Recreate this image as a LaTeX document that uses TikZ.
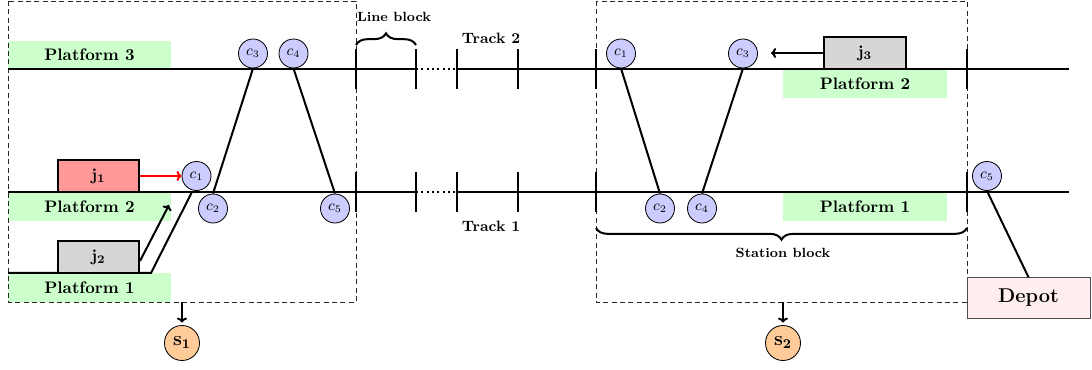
\documentclass[tikz,border=0pt]{standalone}
\usetikzlibrary{decorations.pathreplacing,arrows.meta}
\definecolor{cfill}{HTML}{CCCCFF}
\definecolor{sfill}{HTML}{FFCC99}
\definecolor{pfill}{HTML}{CCFFCC}
\definecolor{rfill}{HTML}{FF9999}
\definecolor{gfill}{HTML}{D6D6D6}
\definecolor{dfill}{HTML}{FFEEEE}
\begin{document}
\begin{tikzpicture}[x=0.6pt,y=-0.6pt,
  track/.style={line width=1.2pt},
  tickmark/.style={line width=1.2pt},
  link/.style={line width=1.2pt},
  cnode/.style={circle,draw,fill=cfill,minimum size=17.4pt,inner sep=0pt,font=\small,line width=0.5pt},
  snode/.style={circle,draw,fill=sfill,minimum size=21pt,inner sep=0pt,font=\large,line width=0.5pt},
  train/.style={draw,line width=1.2pt,minimum width=48.6pt,minimum height=19.2pt,inner sep=0pt,font=\bfseries},
  plat/.style={fill=pfill,minimum width=97.8pt,minimum height=17.2pt,inner sep=0pt,font=\bfseries},
  blk/.style={draw=black!85,dashed,line width=0.5pt,dash pattern=on 3pt off 2pt},
  lbl/.style={font=\small\bfseries,inner sep=0pt},
  brc/.style={decorate,decoration={brace,amplitude=7pt},line width=1.2pt}
]
\useasboundingbox (0,0) rectangle (1092,370);

% platforms (background)
\node[plat] (pl3) at (89.5,55) {Platform 3};
\node[plat] (pl2) at (89.5,206.5) {Platform 2};
\node[plat] (pl1) at (89.5,287.5) {Platform 1};
\node[plat,minimum width=98.4pt] (pr2) at (865,84) {Platform 2};
\node[plat,minimum width=98.4pt] (pr1) at (865,206.5) {Platform 1};

% block boxes
\draw[blk] (8,1) rectangle (356,302);
\draw[blk] (596,1) rectangle (967,302);

% tracks
\coordinate (t2w) at (8,69);
\coordinate (t2a) at (416,69);
\coordinate (t2b) at (457,69);
\coordinate (t2e) at (1069,69);
\coordinate (t1w) at (8,192);
\coordinate (t1a) at (416,192);
\coordinate (t1b) at (457,192);
\coordinate (t1e) at (1069,192);
\draw[track] (t2w) -- (t2a);
\draw[track,dotted] (t2a) -- (t2b);
\draw[track] (t2b) -- (t2e);
\draw[track] (t1w) -- (t1a);
\draw[track,dotted] (t1a) -- (t1b);
\draw[track] (t1b) -- (t1e);

% siding (platform 1)
\coordinate (sw) at (8,273);
\coordinate (sk) at (151,273);
\coordinate (sj) at (192,192);
\draw[track] (sw) -- (sk) -- (sj);

% ticks
\foreach \x in {356,416,457,518,596,967}{
  \draw[tickmark] (\x,49) -- (\x,89);
  \draw[tickmark] (\x,172) -- (\x,212);
}

% braces
\draw[brc] (356,45) -- (416,45);
\node[font=\footnotesize\bfseries,inner sep=0pt] (lb) at (394,17) {Line block};
\draw[brc] (967,228) -- (596,228);
\node[font=\footnotesize\bfseries,inner sep=0pt] (sb) at (783,253) {Station block};

\node[lbl] (tr2) at (491,38) {Track 2};
\node[lbl] (tr1) at (491,226) {Track 1};

% left station connections
\node[cnode] (lc1) at (196.5,176) {$c_1$};
\node[cnode] (lc2) at (213,208.5) {$c_2$};
\node[cnode] (lc3) at (253,53.5) {$c_3$};
\node[cnode] (lc4) at (293.5,53.5) {$c_4$};
\node[cnode] (lc5) at (335,208.5) {$c_5$};
\draw[link] (lc3.south) -- (lc2.north);
\draw[link] (lc4.south) -- (lc5.north);

% right station connections
\node[cnode] (rc1) at (621,53.5) {$c_1$};
\node[cnode] (rc3) at (743,53.5) {$c_3$};
\node[cnode] (rc2) at (660,208.5) {$c_2$};
\node[cnode] (rc4) at (702,208.5) {$c_4$};
\node[cnode] (rc5) at (987,176) {$c_5$};
\draw[link] (rc1.south) -- (rc2.north);
\draw[link] (rc3.south) -- (rc4.north);

% depot
\node[draw=black!70,fill=dfill,minimum width=73.8pt,minimum height=24.4pt,inner sep=0pt,font=\large\bfseries,line width=0.5pt] (depot) at (1028.5,298) {Depot};
\draw[link] (rc5.south) -- (depot.north);

% trains
\node[train,fill=rfill] (j1) at (98.5,176) {$\mathbf{j_1}$};
\node[train,fill=gfill] (j2) at (98.5,257) {$\mathbf{j_2}$};
\node[train,fill=gfill,minimum width=49.2pt] (j3) at (865,53) {$\mathbf{j_3}$};
\draw[-{To[length=3pt,width=6pt]},red,line width=1.2pt] (j1.east) -- (lc1.west);
\coordinate (a2) at (169,205);
\draw[-{To[length=3pt,width=6pt]},line width=1.2pt] ([yshift=-2.4pt]j2.east) -- (a2);
\coordinate (a3) at (771,53);
\draw[-{To[length=3pt,width=6pt]},line width=1.2pt] (j3.west) -- (a3);

% stations
\node[snode] (s1) at (182,343) {$\mathbf{s_1}$};
\node[snode] (s2) at (783,343) {$\mathbf{s_2}$};
\coordinate (b1) at (182,302);
\coordinate (b2) at (783,302);
\draw[-{To[length=3pt,width=6pt]},line width=1.2pt,shorten >=1.5pt] (b1) -- (s1.north);
\draw[-{To[length=3pt,width=6pt]},line width=1.2pt,shorten >=1.5pt] (b2) -- (s2.north);
\end{tikzpicture}
\end{document}
